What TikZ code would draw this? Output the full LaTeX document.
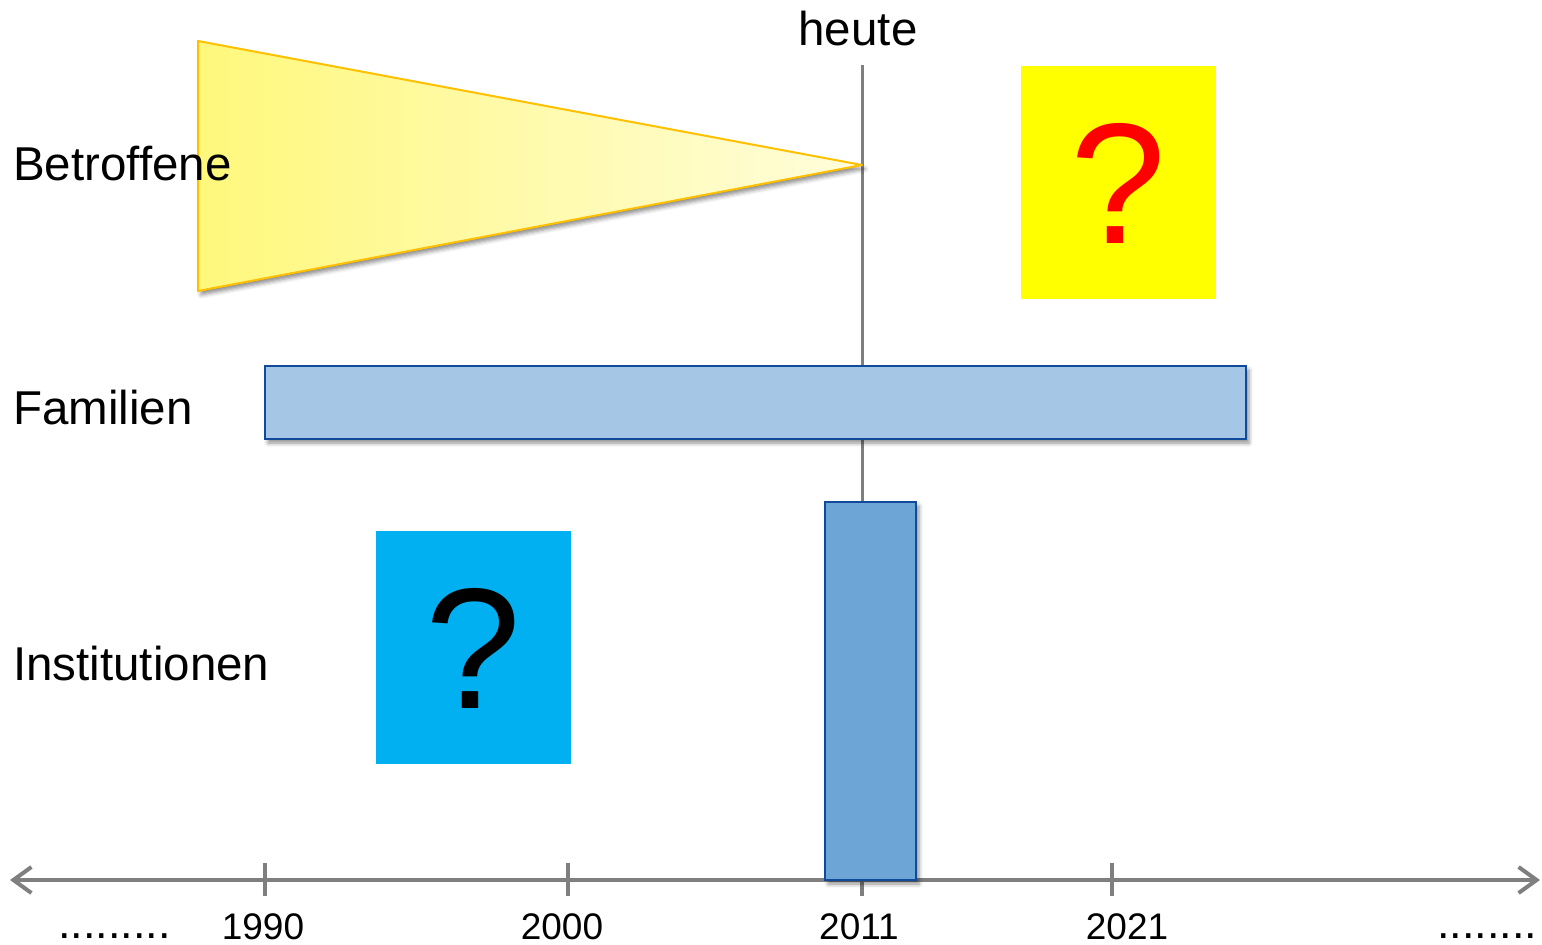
\documentclass[tikz,border=0pt]{standalone}
\usepackage{fontspec}
\setmainfont{Liberation Sans}
\usetikzlibrary{arrows.meta,shadows.blur}
\definecolor{axisgray}{HTML}{7F7F7F}
\definecolor{gold}{HTML}{FFC000}
\definecolor{triL}{HTML}{FFF87C}
\definecolor{triR}{HTML}{FFFDDC}
\definecolor{pureyellow}{HTML}{FFFF00}
\definecolor{purered}{HTML}{FF0000}
\definecolor{barfill}{HTML}{A6C6E5}
\definecolor{tallfill}{HTML}{6CA5D6}
\definecolor{darkblue}{HTML}{0F4B9A}
\definecolor{cyanbox}{HTML}{00B0F0}
\begin{document}
\begin{tikzpicture}[x=1pt,y=-1pt,
  rowlabel/.style={anchor=base west,inner sep=0pt,font=\fontsize{47.5}{57}\selectfont},
  yearlabel/.style={anchor=base,inner sep=0pt,font=\fontsize{37}{44}\selectfont},
  dotlabel/.style={anchor=base west,inner sep=0pt,font=\fontsize{45}{54}\selectfont},
  qmark/.style={inner sep=0pt,font=\fontsize{172}{200}\selectfont},
  shad/.style={blur shadow={shadow xshift=3pt,shadow yshift=-4pt,shadow blur radius=4pt,shadow opacity=45}},
  bluebox/.style={draw=darkblue,line width=2pt,shad},
  tickline/.style={draw=axisgray,line width=3.5pt},
]
\useasboundingbox (0,0) rectangle (1542,945);

% axis
\coordinate (axL) at (10,880);
\coordinate (axR) at (1540,880);
\draw[axisgray,line width=4pt,{Straight Barb[length=18pt,width=26pt]}-{Straight Barb[length=18pt,width=26pt]}] (axL) -- (axR);

% ticks
\foreach \x/\n in {265/a,568/b,862/c,1112/d}{
  \coordinate (t\n1) at (\x,863);
  \coordinate (t\n2) at (\x,896);
  \draw[tickline] (t\n1) -- (t\n2);
}

% today line
\coordinate (nowtop) at (862,65);
\coordinate (nowbot) at (862,880);
\draw[axisgray,line width=3pt] (nowtop) -- (nowbot);
\node[anchor=base,inner sep=0pt,font=\fontsize{47.5}{57}\selectfont] (heute) at (858,45) {heute};

% triangle
\coordinate (triA) at (198,41);
\coordinate (triB) at (198,291);
\coordinate (triC) at (862,165);
\path[shad,left color=triL,right color=triR] (triA) -- (triC) -- (triB) -- cycle;
\draw[gold,line width=2pt,line join=round] (triA) -- (triC) -- (triB) -- cycle;

% yellow box with question
\node[fill=pureyellow,minimum width=195pt,minimum height=233pt,inner sep=0pt] (ybox) at (1118.5,182.5) {};
\node[qmark,text=purered] (qred) at (1118,183) {?};

% cyan box with question
\node[fill=cyanbox,minimum width=195pt,minimum height=233pt,inner sep=0pt] (cbox) at (473.5,647.5) {};
\node[qmark,text=black] (qblack) at (473,648) {?};

% family bar
\node[bluebox,fill=barfill,minimum width=981pt,minimum height=73pt,inner sep=0pt] (fam) at (755.5,402.5) {};

% tall box
\node[bluebox,fill=tallfill,line width=2.5pt,minimum width=91pt,minimum height=378pt,inner sep=0pt] (tall) at (870.5,691) {};

% row labels
\node[rowlabel] (betr) at (13,180) {Betroffene};
\node[rowlabel] (fami) at (13,424) {Familien};
\node[rowlabel] (inst) at (13,680) {Institutionen};

% year labels
\node[yearlabel] (y1990) at (263,939) {1990};
\node[yearlabel] (y2000) at (562,939) {2000};
\node[yearlabel] (y2011) at (859,939) {2011};
\node[yearlabel] (y2021) at (1127,939) {2021};
\node[dotlabel] (dotsL) at (58,938) {.........};
\node[dotlabel] (dotsR) at (1437,938) {........};
\end{tikzpicture}
\end{document}
